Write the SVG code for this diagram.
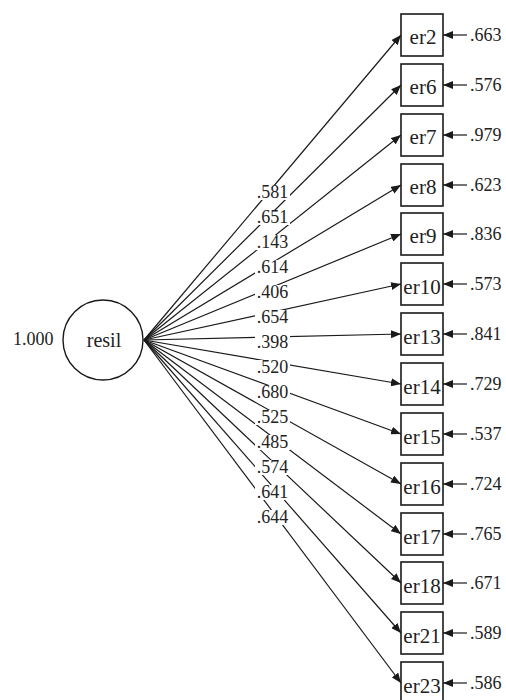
<svg xmlns="http://www.w3.org/2000/svg" width="506" height="700" viewBox="0 0 506 700">
<style>
.bg{fill:#fff}
.ln{stroke:#1a1a1a;stroke-width:1.2;fill:none;marker-end:url(#ah)}
.box{fill:#fff;stroke:#1a1a1a;stroke-width:1.6}
.circ{fill:#fff;stroke:#1a1a1a;stroke-width:1.4}
.t{font-family:"Liberation Serif","Times New Roman",serif;fill:#222}
.lbl{font-size:18px;text-anchor:middle}
.val{font-size:18px}
.nm{font-size:21px;text-anchor:middle}
.mask{fill:#fff}
</style>
<defs>
<marker id="ah" viewBox="0 0 10 8" refX="10" refY="4" markerWidth="10" markerHeight="8" orient="auto" markerUnits="userSpaceOnUse">
<path d="M0,0 L10,4 L0,8 z" fill="#1a1a1a"/>
</marker>
</defs>
<rect class="bg" x="0" y="0" width="506" height="700"/>
<g id="connectors">
<line class="ln" x1="144" y1="340" x2="401" y2="35"/>
<line class="ln" x1="144" y1="340" x2="401" y2="85"/>
<line class="ln" x1="144" y1="340" x2="401" y2="135"/>
<line class="ln" x1="144" y1="340" x2="401" y2="185"/>
<line class="ln" x1="144" y1="340" x2="401" y2="234"/>
<line class="ln" x1="144" y1="340" x2="401" y2="284"/>
<line class="ln" x1="144" y1="340" x2="401" y2="334"/>
<line class="ln" x1="144" y1="340" x2="401" y2="384"/>
<line class="ln" x1="144" y1="340" x2="401" y2="434"/>
<line class="ln" x1="144" y1="340" x2="401" y2="484"/>
<line class="ln" x1="144" y1="340" x2="401" y2="534"/>
<line class="ln" x1="144" y1="340" x2="401" y2="583"/>
<line class="ln" x1="144" y1="340" x2="401" y2="633"/>
<line class="ln" x1="144" y1="340" x2="401" y2="683"/>
<line class="ln" x1="467" y1="35" x2="443" y2="35"/>
<line class="ln" x1="467" y1="85" x2="443" y2="85"/>
<line class="ln" x1="467" y1="135" x2="443" y2="135"/>
<line class="ln" x1="467" y1="185" x2="443" y2="185"/>
<line class="ln" x1="467" y1="234" x2="443" y2="234"/>
<line class="ln" x1="467" y1="284" x2="443" y2="284"/>
<line class="ln" x1="467" y1="334" x2="443" y2="334"/>
<line class="ln" x1="467" y1="384" x2="443" y2="384"/>
<line class="ln" x1="467" y1="434" x2="443" y2="434"/>
<line class="ln" x1="467" y1="484" x2="443" y2="484"/>
<line class="ln" x1="467" y1="534" x2="443" y2="534"/>
<line class="ln" x1="467" y1="583" x2="443" y2="583"/>
<line class="ln" x1="467" y1="633" x2="443" y2="633"/>
<line class="ln" x1="467" y1="683" x2="443" y2="683"/>
</g>
<g id="path-labels">
<rect class="mask" x="255" y="185" width="35" height="15"/><text class="t lbl" x="272.5" y="198" >.581</text>
<rect class="mask" x="255" y="210" width="35" height="15"/><text class="t lbl" x="272.5" y="223" >.651</text>
<rect class="mask" x="255" y="235" width="35" height="15"/><text class="t lbl" x="272.5" y="248" >.143</text>
<rect class="mask" x="255" y="260" width="35" height="15"/><text class="t lbl" x="272.5" y="273" >.614</text>
<rect class="mask" x="255" y="285" width="35" height="15"/><text class="t lbl" x="272.5" y="298" >.406</text>
<rect class="mask" x="255" y="310" width="35" height="15"/><text class="t lbl" x="272.5" y="323" >.654</text>
<rect class="mask" x="255" y="335" width="35" height="15"/><text class="t lbl" x="272.5" y="348" >.398</text>
<rect class="mask" x="255" y="360" width="35" height="15"/><text class="t lbl" x="272.5" y="373" >.520</text>
<rect class="mask" x="255" y="385" width="35" height="15"/><text class="t lbl" x="272.5" y="398" >.680</text>
<rect class="mask" x="255" y="410" width="35" height="15"/><text class="t lbl" x="272.5" y="423" >.525</text>
<rect class="mask" x="255" y="435" width="35" height="15"/><text class="t lbl" x="272.5" y="448" >.485</text>
<rect class="mask" x="255" y="460" width="35" height="15"/><text class="t lbl" x="272.5" y="473" >.574</text>
<rect class="mask" x="255" y="485" width="35" height="15"/><text class="t lbl" x="272.5" y="498" >.641</text>
<rect class="mask" x="255" y="510" width="35" height="15"/><text class="t lbl" x="272.5" y="523" >.644</text>
</g>
<g id="resil">
<circle class="circ" cx="103" cy="340" r="40"/>
<text class="t nm" x="104" y="347" style="font-size:20px">resil</text>
<text class="t val" x="13" y="345">1.000</text>
</g>
<g id="er2"><rect class="box" x="401" y="14" width="42" height="42"/><text class="t nm" x="423" y="44">er2</text><text class="t val" x="470" y="41">.663</text></g>
<g id="er6"><rect class="box" x="401" y="64" width="42" height="42"/><text class="t nm" x="423" y="94">er6</text><text class="t val" x="470" y="91">.576</text></g>
<g id="er7"><rect class="box" x="401" y="114" width="42" height="42"/><text class="t nm" x="423" y="144">er7</text><text class="t val" x="470" y="141">.979</text></g>
<g id="er8"><rect class="box" x="401" y="164" width="42" height="42"/><text class="t nm" x="423" y="194">er8</text><text class="t val" x="470" y="191">.623</text></g>
<g id="er9"><rect class="box" x="401" y="213" width="42" height="42"/><text class="t nm" x="423" y="243">er9</text><text class="t val" x="470" y="240">.836</text></g>
<g id="er10"><rect class="box" x="401" y="263" width="42" height="42"/><text class="t nm" x="422" y="294">er10</text><text class="t val" x="470" y="290">.573</text></g>
<g id="er13"><rect class="box" x="401" y="313" width="42" height="42"/><text class="t nm" x="422" y="344">er13</text><text class="t val" x="470" y="340">.841</text></g>
<g id="er14"><rect class="box" x="401" y="363" width="42" height="42"/><text class="t nm" x="422" y="394">er14</text><text class="t val" x="470" y="390">.729</text></g>
<g id="er15"><rect class="box" x="401" y="413" width="42" height="42"/><text class="t nm" x="422" y="444">er15</text><text class="t val" x="470" y="440">.537</text></g>
<g id="er16"><rect class="box" x="401" y="463" width="42" height="42"/><text class="t nm" x="422" y="494">er16</text><text class="t val" x="470" y="490">.724</text></g>
<g id="er17"><rect class="box" x="401" y="513" width="42" height="42"/><text class="t nm" x="422" y="544">er17</text><text class="t val" x="470" y="540">.765</text></g>
<g id="er18"><rect class="box" x="401" y="562" width="42" height="42"/><text class="t nm" x="422" y="593">er18</text><text class="t val" x="470" y="589">.671</text></g>
<g id="er21"><rect class="box" x="401" y="612" width="42" height="42"/><text class="t nm" x="422" y="643">er21</text><text class="t val" x="470" y="639">.589</text></g>
<g id="er23"><rect class="box" x="401" y="662" width="42" height="42"/><text class="t nm" x="422" y="693">er23</text><text class="t val" x="470" y="689">.586</text></g>
</svg>
